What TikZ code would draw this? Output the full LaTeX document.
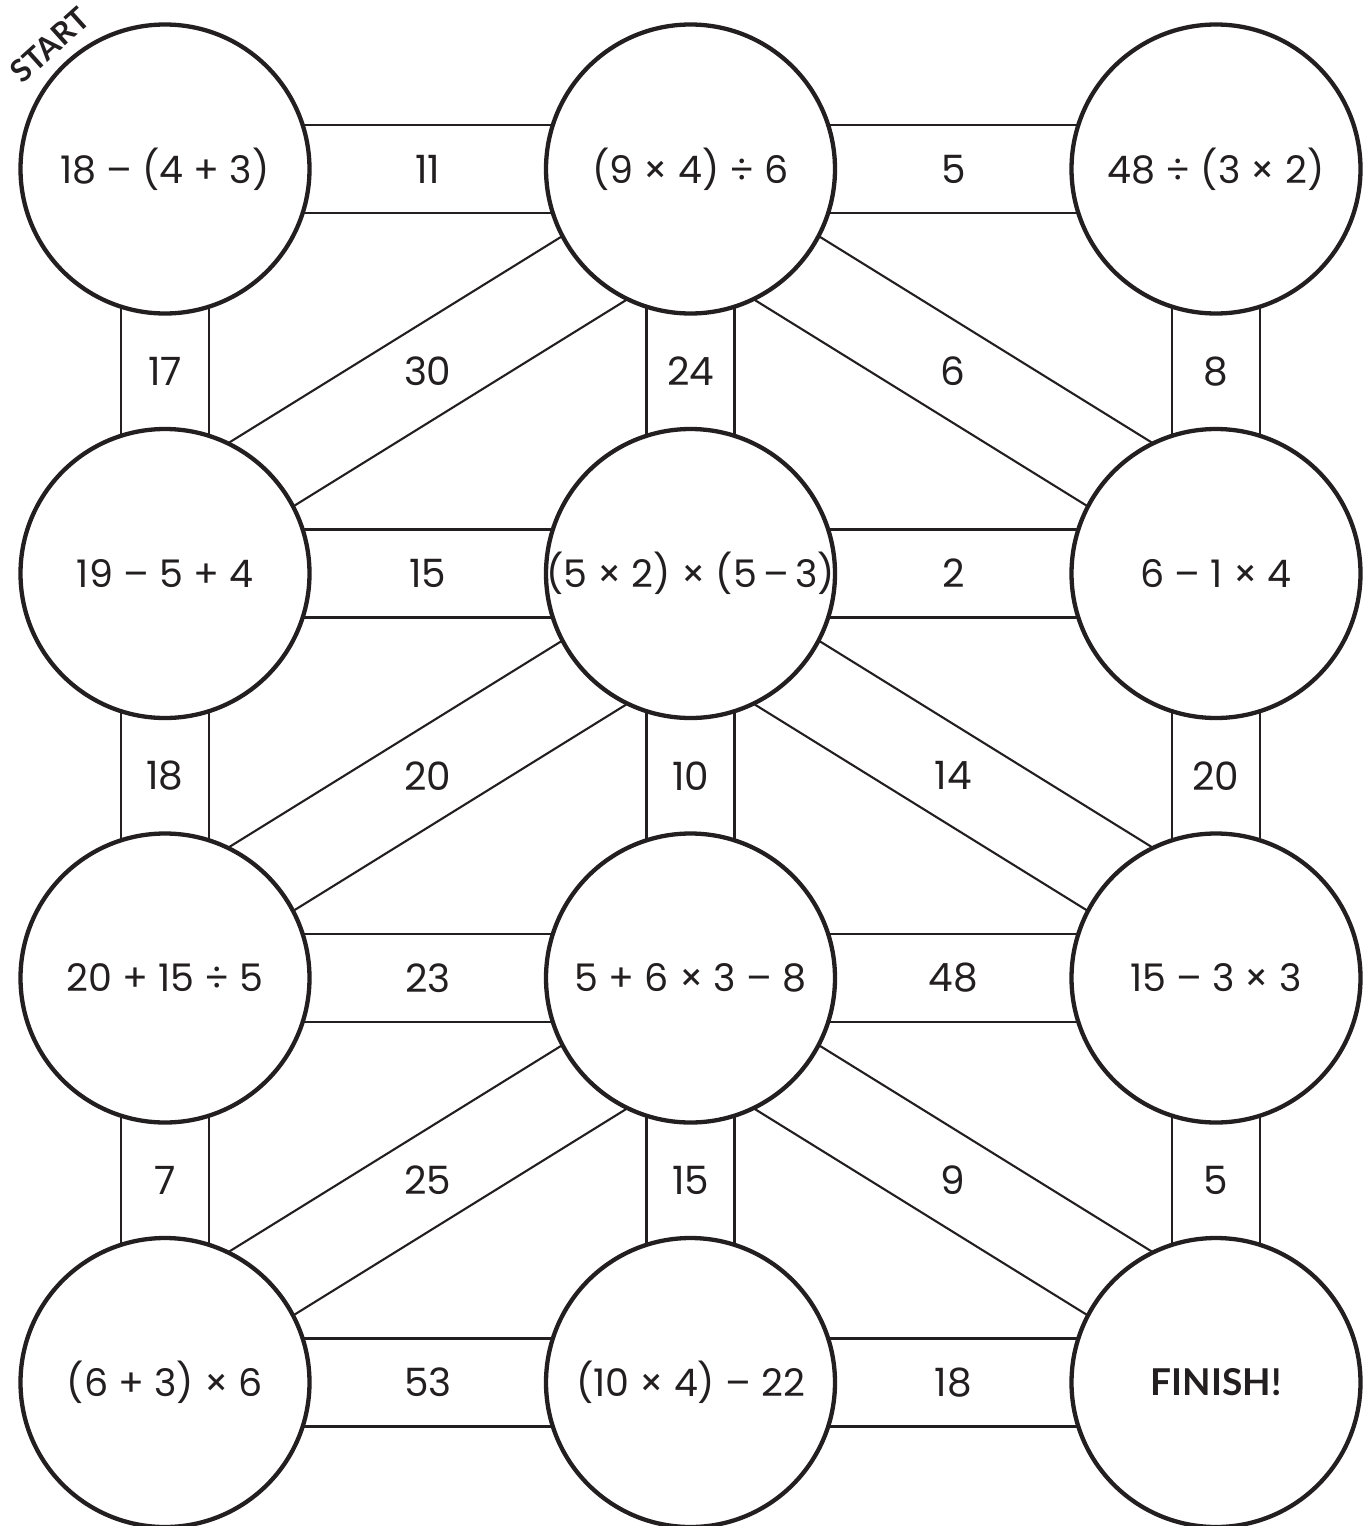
\documentclass[tikz,border=0pt]{standalone}
\usepackage{fontspec}
\setmainfont{Poppins}
\newfontfamily\labelboldfont{Lato}
\usetikzlibrary{calc,backgrounds}
\definecolor{ink}{HTML}{231F20}
\newcommand\mazeband[3]{%
  \coordinate (mm) at ($(#1)!0.5!(#2)$);
  \coordinate (pb) at ($(mm)!1!#3:(#2)$);
  \coordinate (pa) at ($(mm)!1!#3:(#1)$);
  \draw[conn] ($(pa)!44pt!90:(pb)$) -- ($(pb)!44pt!-90:(pa)$);
  \draw[conn] ($(pa)!44pt!-90:(pb)$) -- ($(pb)!44pt!90:(pa)$);
}
\begin{document}
\begin{tikzpicture}[x=1pt,y=-1pt,
  circ/.style={circle,draw=ink,line width=4.3pt,fill=white,minimum size=289pt,inner sep=0pt,text=ink,font=\fontsize{38}{46}\selectfont},
  conn/.style={line width=2.1pt,draw=ink},
  lab/.style={inner sep=0pt,text=ink,font=\fontsize{39}{47}\selectfont}]
\useasboundingbox (0,0) rectangle (1367,1526);
% circles
\node[circ] (n11) at (165,169)    {18 – (4 + 3)};
\node[circ] (n12) at (690.5,169)  {(9 × 4) ÷ 6};
\node[circ] (n13) at (1216,169)   {48 ÷ (3 × 2)};
\node[circ] (n21) at (165,573.5)  {19 – 5 + 4};
\node[circ] (n22) at (690.5,573.5){\makebox[0pt][c]{(5 × 2) × (5\,–\,3)}};
\node[circ] (n23) at (1216,573.5) {6 – 1 × 4};
\node[circ] (n31) at (165,978)    {20 + 15 ÷ 5};
\node[circ] (n32) at (690.5,978)  {5 + 6 × 3 – 8};
\node[circ] (n33) at (1216,978)   {15 – 3 × 3};
\node[circ] (n41) at (165,1382.5) {(6 + 3) × 6};
\node[circ] (n42) at (690.5,1382.5){(10 × 4) – 22};
\node[circ,font=\labelboldfont\bfseries\fontsize{37}{44}\selectfont] (n43) at (1216,1382.5) {FINISH!};
\node[text=ink,font=\labelboldfont\bfseries\fontsize{31}{36}\selectfont,rotate=42,inner sep=0pt] (start) at (50,45) {START};
% bands
\begin{pgfonlayer}{background}
\mazeband{n11}{n12}{0}
\mazeband{n12}{n13}{0}
\mazeband{n21}{n22}{0}
\mazeband{n22}{n23}{0}
\mazeband{n31}{n32}{0}
\mazeband{n32}{n33}{0}
\mazeband{n41}{n42}{0}
\mazeband{n42}{n43}{0}
\mazeband{n11}{n21}{0}
\mazeband{n12}{n22}{0}
\mazeband{n13}{n23}{0}
\mazeband{n21}{n31}{0}
\mazeband{n22}{n32}{0}
\mazeband{n23}{n33}{0}
\mazeband{n31}{n41}{0}
\mazeband{n32}{n42}{0}
\mazeband{n33}{n43}{0}
\mazeband{n12}{n21}{-5.8}
\mazeband{n12}{n23}{5.8}
\mazeband{n22}{n31}{-5.8}
\mazeband{n22}{n33}{5.8}
\mazeband{n32}{n41}{-5.8}
\mazeband{n32}{n43}{5.8}
\end{pgfonlayer}
% labels
\node[lab] (l1) at ($(n11)!0.5!(n12)$) {11};
\node[lab] (l2) at ($(n12)!0.5!(n13)$) {5};
\node[lab] (l3) at ($(n21)!0.5!(n22)$) {15};
\node[lab] (l4) at ($(n22)!0.5!(n23)$) {2};
\node[lab] (l5) at ($(n31)!0.5!(n32)$) {23};
\node[lab] (l6) at ($(n32)!0.5!(n33)$) {48};
\node[lab] (l7) at ($(n41)!0.5!(n42)$) {53};
\node[lab] (l8) at ($(n42)!0.5!(n43)$) {18};
\node[lab] (v1) at ($(n11)!0.5!(n21)$) {17};
\node[lab] (v2) at ($(n12)!0.5!(n22)$) {24};
\node[lab] (v3) at ($(n13)!0.5!(n23)$) {8};
\node[lab] (v4) at ($(n21)!0.5!(n31)$) {18};
\node[lab] (v5) at ($(n22)!0.5!(n32)$) {10};
\node[lab] (v6) at ($(n23)!0.5!(n33)$) {20};
\node[lab] (v7) at ($(n31)!0.5!(n41)$) {7};
\node[lab] (v8) at ($(n32)!0.5!(n42)$) {15};
\node[lab] (v9) at ($(n33)!0.5!(n43)$) {5};
\node[lab] (d1) at ($(n12)!0.5!(n21)$) {30};
\node[lab] (d2) at ($(n12)!0.5!(n23)$) {6};
\node[lab] (d3) at ($(n22)!0.5!(n31)$) {20};
\node[lab] (d4) at ($(n22)!0.5!(n33)$) {14};
\node[lab] (d5) at ($(n32)!0.5!(n41)$) {25};
\node[lab] (d6) at ($(n32)!0.5!(n43)$) {9};
\end{tikzpicture}
\end{document}
